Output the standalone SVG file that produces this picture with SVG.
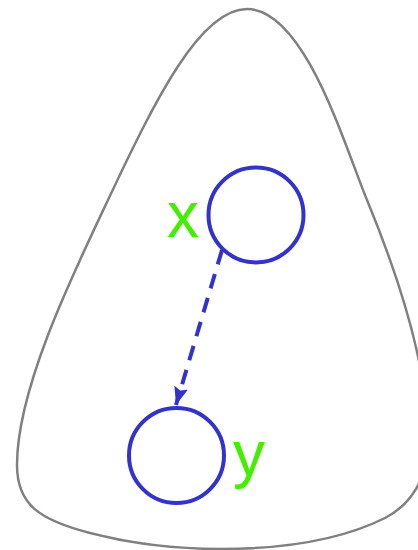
<svg xmlns="http://www.w3.org/2000/svg" width="418" height="550" viewBox="0 0 418 550">
<style>
.region{fill:none;stroke:#808080;stroke-width:2.5}
.node{fill:#ffffff;stroke:#3333cc;stroke-width:4}
.lbl{font-family:"Liberation Sans",Arial,sans-serif;font-size:64px;fill:#44ee00}
.edge{fill:none;stroke:#3333cc;stroke-width:4;stroke-dasharray:15 10}
</style>
<defs>
<marker id="arr" markerUnits="userSpaceOnUse" markerWidth="20" markerHeight="16" refX="18" refY="7" orient="auto">
<path d="M0,0 L18,7 L0,14 L3,7 Z" fill="#3333cc"/>
</marker>
</defs>
<g id="region">
<path class="region" d="M247 9 C200 9 155 100 108 200 C70 280 17 390 17 465 C17 505 40 520 90 533 C140 546 180 549 220 549 C290 549 345 538 385 518 C410 505 428 480 428 440 C428 370 400 280 367 200 C345 147 305 9 247 9 Z"/>
</g>
<g id="connectors">
<path class="edge" d="M222 250 L176 405" marker-end="url(#arr)"/>
</g>
<g id="node-x">
<circle class="node" cx="256" cy="215" r="47.5"/>
<text class="lbl" x="167" y="237">x</text>
</g>
<g id="node-y">
<circle class="node" cx="176.5" cy="455.5" r="47.5"/>
<text class="lbl" x="233" y="476">y</text>
</g>
</svg>
